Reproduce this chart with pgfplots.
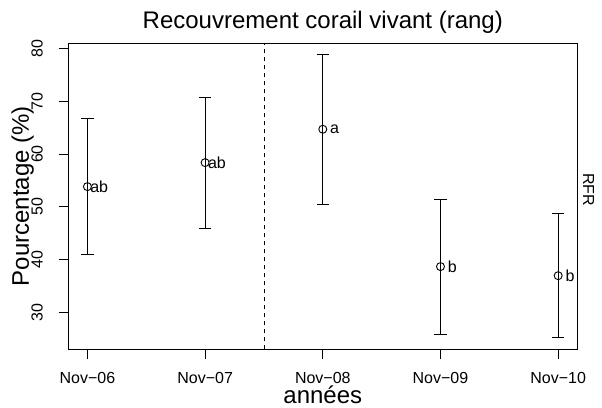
\documentclass[border=0pt]{standalone}
\usepackage{fontspec}
\setmainfont{Liberation Sans}
\usepackage{pgfplots}
\pgfplotsset{compat=1.18}
\usepackage{pgfplotstable}
\pgfplotstableread{
x  y      up     lo     lab
1  53.84  12.93  12.91  ab
2  58.38  12.36  12.54  ab
3  64.69  14.11  14.26  a
4  38.72  12.78  12.78  b
5  37.00  11.80  11.76  b
}\datatab
\begin{document}
\begin{tikzpicture}
\useasboundingbox (-68.6pt,-57.8pt) rectangle (533.4pt,349.2pt);
\begin{axis}[
  scale only axis,
  width=508.4pt, height=305.9pt,
  xmin=0.84, xmax=5.16, ymin=23.1, ymax=80.94,
  axis line style={line width=0.9pt},
  every tick/.style={black, line width=0.9pt},
  tick align=outside, major tick length=10pt,
  xtick pos=bottom, ytick pos=left,
  xtick={1,2,3,4,5},
  xticklabels={Nov−06,Nov−07,Nov−08,Nov−09,Nov−10},
  ytick={30,40,50,60,70,80},
  /pgf/number format/assume math mode=true,
  ticklabel style={font=\fontsize{16}{19}\selectfont, inner sep=0.5pt},
  xticklabel style={anchor=base, yshift=-24.5pt},
  yticklabel style={xshift=-16pt, rotate=90, anchor=base},
  title={Recouvrement corail vivant (rang)},
  title style={at={(axis description cs:0.5,1.0294)}, anchor=base, font=\fontsize{24}{28}\selectfont},
  xlabel={années},
  xlabel style={at={(axis description cs:0.5,-0.1765)}, anchor=base, inner sep=0.5pt, font=\fontsize{24}{28}\selectfont},
  ylabel={Pourcentage (\%)},
  ylabel style={at={(axis description cs:-0.0779,0.5)}, rotate=0, anchor=base, font=\fontsize{24}{28}\selectfont},
  clip=false,
]
\addplot[black, line width=0.9pt, dash pattern=on 4pt off 4pt, mark=none] coordinates {(2.5,23.1) (2.5,80.94)};
\addplot[black, only marks, mark=o, mark size=4pt, mark options={line width=0.9pt},
  error bars/.cd, y dir=both, y explicit,
  error bar style={line width=0.9pt, black},
  error mark options={line width=0.9pt, black, mark size=6.3pt, rotate=90}]
  table[x=x, y=y, y error plus=up, y error minus=lo] {\datatab};
\addplot[draw=none, mark=none, nodes near coords, point meta=explicit symbolic,
  every node near coord/.style={anchor=center, xshift=11.8pt, font=\fontsize{16}{19}\selectfont, black}]
  table[x=x, y=y, meta=lab] {\datatab};
\node[rotate=-90, anchor=base, font=\fontsize{16}{19}\selectfont] at (axis description cs:1.0118,0.522) {RFR};
\end{axis}
\end{tikzpicture}
\end{document}
